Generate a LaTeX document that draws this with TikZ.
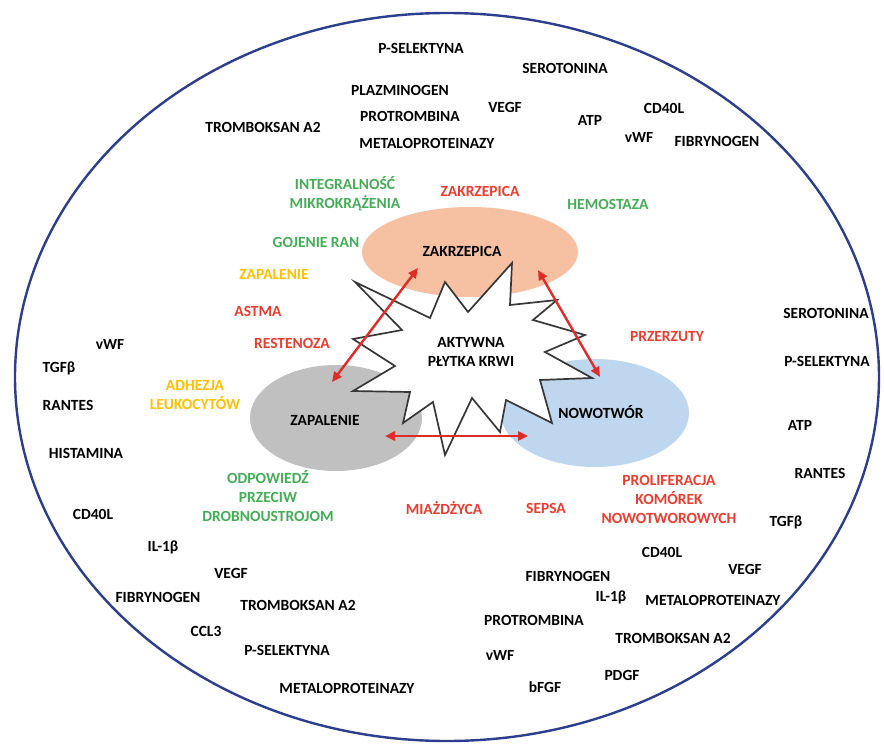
\documentclass[tikz,border=0pt]{standalone}
\usepackage{fontspec}
\setmainfont{Carlito}
\usetikzlibrary{arrows.meta,shapes.geometric}
\definecolor{rimblue}{RGB}{44,62,140}
\definecolor{lgreen}{RGB}{70,172,88}
\definecolor{lred}{RGB}{232,62,50}
\definecolor{lyellow}{RGB}{255,192,0}
\definecolor{aorange}{RGB}{246,192,162}
\definecolor{agrey}{RGB}{192,192,192}
\definecolor{ablue}{RGB}{190,215,238}
\definecolor{arrred}{RGB}{222,44,40}
\definecolor{starline}{RGB}{55,55,55}
\begin{document}
\begin{tikzpicture}[x=1pt,y=-1pt,
  lbl/.style={font=\bfseries\fontsize{15.5}{19}\selectfont, inner sep=0pt, align=center, text=black},
  grn/.style={lbl, text=lgreen},
  rd/.style={lbl, text=lred},
  yl/.style={lbl, text=lyellow},
  blob/.style={ellipse, draw=none, inner sep=0pt},
  link/.style={draw=arrred, line width=2.4pt, {Triangle[length=10pt,width=9pt]}-{Triangle[length=10pt,width=9pt]}}
]
\useasboundingbox (0,0) rectangle (884,744);
\fill[white] (0,0) rectangle (884,744);
% outer ellipse
\draw[rimblue, line width=2.4pt] (447,377) ellipse [x radius=432, y radius=364];
% coloured ellipses
\node[blob, fill=aorange, minimum width=216pt, minimum height=90pt] (zak) at (470,252) {};
\node[blob, fill=agrey, minimum width=172pt, minimum height=106pt] (zap) at (336,418) {};
\node[blob, fill=ablue, minimum width=188pt, minimum height=108pt] (now) at (595,413) {};
% star
\draw[starline, line width=1.7pt, fill=white, line join=miter]
  (355,282) -- (430,318) -- (445,282) -- (468,312) -- (512,263) -- (510,305)
  -- (557,300) -- (533,320) -- (585,335) -- (545,352) -- (592,378) -- (540,380)
  -- (552,423) -- (506,400) -- (500,432) -- (472,398) -- (445,455) -- (433,402)
  -- (403,423) -- (410,392) -- (353,391) -- (395,366) -- (353,339) -- (402,330)
  -- cycle;
% ellipse labels
\node[lbl] (tzak) at (462,251) {ZAKRZEPICA};
\node[lbl] (tzap) at (325,420) {ZAPALENIE};
\node[lbl] (tnow) at (601,412) {NOWOTWÓR};
\node[lbl] (star) at (471,352) {AKTYWNA\\PŁYTKA KRWI};
% arrows
\coordinate (a1) at (418,268);
\coordinate (b1) at (332,382);
\coordinate (a2) at (538,270);
\coordinate (b2) at (600,377);
\coordinate (a3) at (385,436);
\coordinate (b3) at (528,436);
\draw[link] (a1) -- (b1);
\draw[link] (a2) -- (b2);
\draw[link] (a3) -- (b3);
% top black
\node[lbl] (t1) at (421,48) {P-SELEKTYNA};
\node[lbl] (t2) at (565,68) {SEROTONINA};
\node[lbl] (t3) at (400,90) {PLAZMINOGEN};
\node[lbl] (t4) at (410,116) {PROTROMBINA};
\node[lbl] (t5) at (505,107) {VEGF};
\node[lbl] (t6) at (590,120) {ATP};
\node[lbl] (t7) at (664,108) {CD40L};
\node[lbl] (t8) at (639,137) {vWF};
\node[lbl] (t9) at (717,141) {FIBRYNOGEN};
\node[lbl] (t10) at (263,127) {TROMBOKSAN A2};
\node[lbl] (t11) at (427,143) {METALOPROTEINAZY};
% coloured around
\node[grn] (g1) at (345,194) {INTEGRALNOŚĆ\\MIKROKRĄŻENIA};
\node[rd] (r1) at (480,191) {ZAKRZEPICA};
\node[grn] (g2) at (608,204) {HEMOSTAZA};
\node[grn] (g3) at (316,242) {GOJENIE RAN};
\node[yl] (y1) at (274,274) {ZAPALENIE};
\node[rd] (r2) at (258,311) {ASTMA};
\node[rd] (r3) at (292,343) {RESTENOZA};
\node[yl] (y2) at (195,395) {ADHEZJA\\LEUKOCYTÓW};
\node[rd] (r4) at (667,337) {PRZERZUTY};
\node[rd] (r5) at (669,499) {PROLIFERACJA\\KOMÓREK\\NOWOTWOROWYCH};
\node[rd] (r6) at (444,508) {MIAŻDŻYCA};
\node[rd] (r7) at (546,508) {SEPSA};
\node[grn] (g4) at (268,496) {ODPOWIEDŹ\\PRZECIW\\DROBNOUSTROJOM};
% left black
\node[lbl] (l1) at (110,344) {vWF};
\node[lbl] (l2) at (59,368) {TGFβ};
\node[lbl] (l3) at (68,405) {RANTES};
\node[lbl] (l4) at (86,453) {HISTAMINA};
% right black
\node[lbl] (m1) at (826,313) {SEROTONINA};
\node[lbl] (m2) at (827,361) {P-SELEKTYNA};
\node[lbl] (m3) at (800,425) {ATP};
\node[lbl] (m4) at (820,473) {RANTES};
\node[lbl] (m5) at (786,522) {TGFβ};
% bottom left black
\node[lbl] (n1) at (93,514) {CD40L};
\node[lbl] (n2) at (163,547) {IL-1β};
\node[lbl] (n3) at (231,573) {VEGF};
\node[lbl] (n4) at (158,597) {FIBRYNOGEN};
\node[lbl] (n5) at (298,605) {TROMBOKSAN A2};
\node[lbl] (n6) at (206,631) {CCL3};
\node[lbl] (n7) at (287,650) {P-SELEKTYNA};
\node[lbl] (n8) at (347,688) {METALOPROTEINAZY};
% bottom right black
\node[lbl] (k1) at (662,552) {CD40L};
\node[lbl] (k2) at (745,569) {VEGF};
\node[lbl] (k3) at (568,576) {FIBRYNOGEN};
\node[lbl] (k4) at (611,597) {IL-1β};
\node[lbl] (k5) at (713,600) {METALOPROTEINAZY};
\node[lbl] (k6) at (534,620) {PROTROMBINA};
\node[lbl] (k7) at (673,638) {TROMBOKSAN A2};
\node[lbl] (k8) at (500,655) {vWF};
\node[lbl] (k9) at (622,675) {PDGF};
\node[lbl] (k10) at (545,687) {bFGF};
\end{tikzpicture}
\end{document}
